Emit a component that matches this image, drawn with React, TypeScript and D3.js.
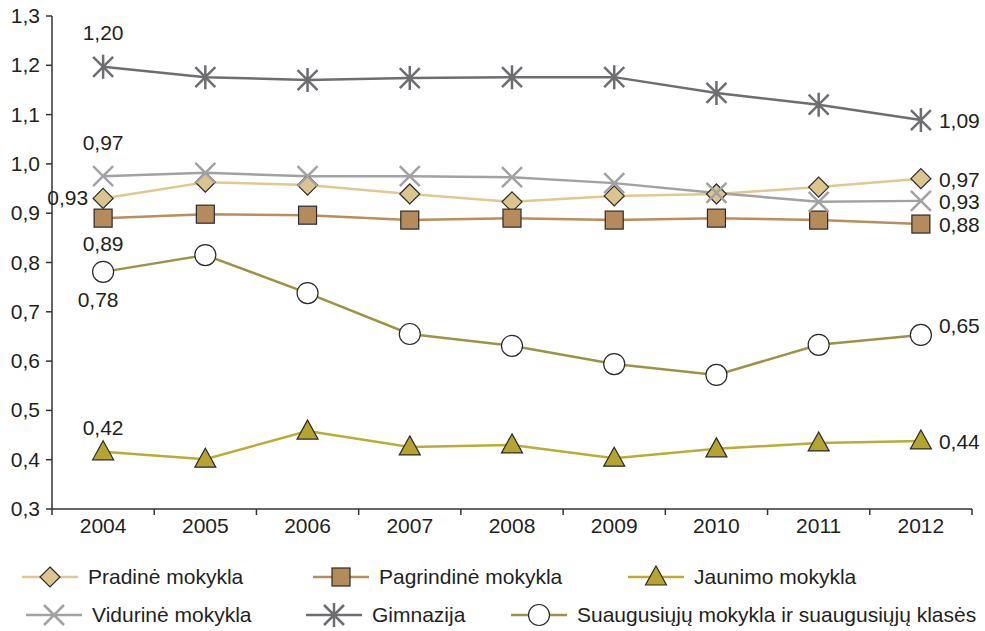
import React from "react";
import * as d3 from "d3";

const years = ["2004", "2005", "2006", "2007", "2008", "2009", "2010", "2011", "2012"];
const pradine = [0.93, 0.963, 0.957, 0.939, 0.923, 0.935, 0.939, 0.953, 0.97];
const pagrindine = [0.89, 0.898, 0.896, 0.886, 0.89, 0.886, 0.89, 0.886, 0.878];
const jaunimo = [0.416, 0.401, 0.458, 0.426, 0.43, 0.403, 0.422, 0.434, 0.438];
const vidurine = [0.975, 0.982, 0.975, 0.975, 0.973, 0.961, 0.941, 0.923, 0.925];
const gimnazija = [1.197, 1.176, 1.17, 1.174, 1.176, 1.176, 1.144, 1.12, 1.089];
const suaugusiuju = [0.781, 0.815, 0.738, 0.655, 0.631, 0.594, 0.572, 0.633, 0.653];
const yTicks = [0.3, 0.4, 0.5, 0.6, 0.7, 0.8, 0.9, 1.0, 1.1, 1.2, 1.3];

type Shape = "diamond" | "square" | "triangle" | "x" | "star" | "circle";

const series = [
  { name: "Pradinė mokykla", values: pradine, line: "#e2c890", fill: "#dcc48e", shape: "diamond" as Shape },
  { name: "Pagrindinė mokykla", values: pagrindine, line: "#bb8d5e", fill: "#b68b5b", shape: "square" as Shape },
  { name: "Jaunimo mokykla", values: jaunimo, line: "#bcac32", fill: "#b5a530", shape: "triangle" as Shape },
  { name: "Vidurinė mokykla", values: vidurine, line: "#a2a2a5", fill: "none", shape: "x" as Shape },
  { name: "Gimnazija", values: gimnazija, line: "#6d6e71", fill: "none", shape: "star" as Shape },
  { name: "Suaugusiųjų mokykla ir suaugusiųjų klasės", values: suaugusiuju, line: "#9c9444", fill: "#ffffff", shape: "circle" as Shape },
];

// first/last value labels: [series index, point index, dx, dy, anchor]
const labels: [number, number, number, number, string][] = [
  [4, 0, 0, -27, "middle"],
  [3, 0, 0, -26, "middle"],
  [0, 0, -15, 7, "end"],
  [1, 0, 0, 33, "middle"],
  [5, 0, -5, 35, "middle"],
  [2, 0, 0, -17, "middle"],
  [4, 8, 18, 8, "start"],
  [0, 8, 18, 8, "start"],
  [3, 8, 18, 8, "start"],
  [1, 8, 18, 8, "start"],
  [5, 8, 18, -2, "start"],
  [2, 8, 18, 8, "start"],
];

const fmt = (v: number, d: number) => v.toFixed(d).replace(".", ",");

function Marker({ shape, x, y, fill, stroke }: { shape: Shape; x: number; y: number; fill: string; stroke: string }) {
  const dark = "#2a2a2a";
  switch (shape) {
    case "diamond":
      return <path d={`M${x},${y - 10}L${x + 10},${y}L${x},${y + 10}L${x - 10},${y}Z`} fill={fill} stroke={dark} strokeWidth={1.2} />;
    case "square":
      return <rect x={x - 9} y={y - 9} width={18} height={18} fill={fill} stroke={dark} strokeWidth={1.2} />;
    case "triangle":
      return <path d={`M${x},${y - 11}L${x + 10.5},${y + 8}L${x - 10.5},${y + 8}Z`} fill={fill} stroke={dark} strokeWidth={1.2} />;
    case "circle":
      return <circle cx={x} cy={y} r={10.5} fill={fill} stroke={dark} strokeWidth={1.2} />;
    case "x":
      return <path d={`M${x - 10},${y - 10}L${x + 10},${y + 10}M${x - 10},${y + 10}L${x + 10},${y - 10}`} stroke={stroke} strokeWidth={2.5} fill="none" />;
    case "star":
      return (
        <path
          d={`M${x - 10},${y - 10}L${x + 10},${y + 10}M${x - 10},${y + 10}L${x + 10},${y - 10}M${x},${y - 12}L${x},${y + 12}`}
          stroke={stroke}
          strokeWidth={2.5}
          fill="none"
        />
      );
  }
  return null;
}

const legendPos = [
  [22, 577],
  [313, 577],
  [628, 577],
  [26, 615],
  [306, 615],
  [511, 615],
];

export default function App() {
  const W = 985;
  const H = 631;
  const x0 = 52;
  const x1 = 972;
  const yTop = 16;
  const yBot = 509;
  const x = d3.scaleBand<string>().domain(years).range([x0, x1]);
  const y = d3.scaleLinear().domain([0.3, 1.3]).range([yBot, yTop]);
  const cx = (yr: string) => (x(yr) as number) + x.bandwidth() / 2;
  const line = d3
    .line<number>()
    .x((_, i) => cx(years[i]))
    .y((d) => y(d));
  const axisColor = "#333";
  const font = "Liberation Sans, Arial, sans-serif";
  const fs = 21;
  const txt = "#231f20";
  const boundaries = years.map((yr) => x(yr) as number).concat([x1]);

  return (
    <svg width={W} height={H} style={{ position: "absolute", left: 0, top: 0 }} fontFamily={font}>
      <rect width={W} height={H} fill="#fff" />
      {/* y axis */}
      <line x1={x0} x2={x0} y1={yTop} y2={yBot} stroke={axisColor} strokeWidth={1.5} />
      {yTicks.map((t) => (
        <g key={t}>
          <line x1={x0 - 6} x2={x0} y1={y(t)} y2={y(t)} stroke={axisColor} strokeWidth={1.5} />
          <text x={40} y={y(t) + 7} textAnchor="end" fontSize={fs} fill={txt}>
            {fmt(t, 1)}
          </text>
        </g>
      ))}
      {/* x axis */}
      <line x1={x0} x2={x1} y1={yBot} y2={yBot} stroke={axisColor} strokeWidth={1.5} />
      {boundaries.map((b, i) => (
        <line key={i} x1={b} x2={b} y1={yBot} y2={yBot + 6} stroke={axisColor} strokeWidth={1.5} />
      ))}
      {years.map((yr) => (
        <text key={yr} x={cx(yr)} y={533} textAnchor="middle" fontSize={fs} fill={txt}>
          {yr}
        </text>
      ))}
      {/* lines */}
      {series.map((s) => (
        <path key={s.name} d={line(s.values) as string} fill="none" stroke={s.line} strokeWidth={2.5} />
      ))}
      {series.map((s) => (
        <g key={s.name + "m"}>
          {s.values.map((v, i) => (
            <Marker key={i} shape={s.shape} x={cx(years[i])} y={y(v)} fill={s.fill} stroke={s.line} />
          ))}
        </g>
      ))}
      {labels.map(([si, pi, dx, dy, anchor], k) => (
        <text
          key={k}
          x={cx(years[pi]) + dx}
          y={y(series[si].values[pi]) + dy}
          textAnchor={anchor as any}
          fontSize={fs}
          fill={txt}
        >
          {fmt(series[si].values[pi], 2)}
        </text>
      ))}
      {/* legend */}
      {series.map((s, i) => {
        const [lx, ly] = legendPos[i];
        return (
          <g key={s.name + "l"}>
            <line x1={lx} x2={lx + 56} y1={ly} y2={ly} stroke={s.line} strokeWidth={2.5} />
            <Marker shape={s.shape} x={lx + 28} y={ly} fill={s.fill} stroke={s.line} />
            <text x={lx + 66} y={ly + 7} fontSize={fs} fill={txt}>
              {s.name}
            </text>
          </g>
        );
      })}
    </svg>
  );
}
